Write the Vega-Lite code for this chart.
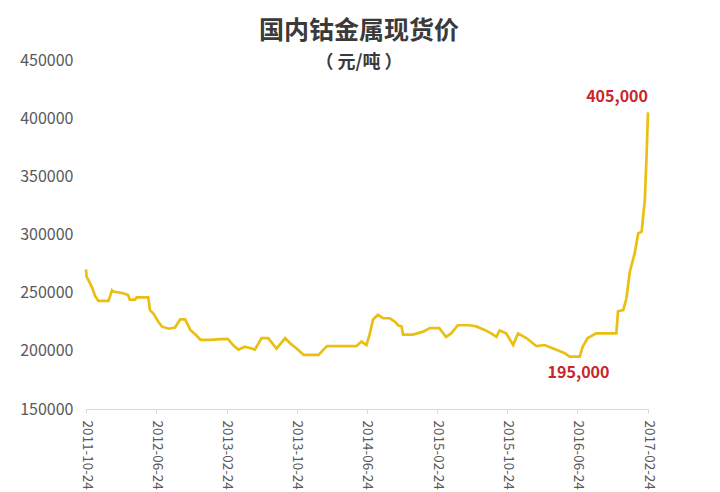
{
  "$schema": "https://vega.github.io/schema/vega-lite/v6.json",
  "width": 562,
  "height": 349,
  "autosize": "none",
  "padding": {"left": 86, "top": 60, "right": 72, "bottom": 83},
  "background": "white",
  "title": {
    "text": "国内钴金属现货价",
    "subtitle": "（ 元/吨 ）",
    "font": "Noto Sans CJK SC",
    "fontSize": 25,
    "fontWeight": "bold",
    "color": "#3a3a3a",
    "subtitleFont": "Noto Sans CJK SC",
    "subtitleFontSize": 18,
    "subtitleFontWeight": "bold",
    "subtitleColor": "#3a3a3a",
    "subtitlePadding": 10,
    "anchor": "middle",
    "frame": "group",
    "offset": -20,
    "dx": -8
  },
  "config": {
    "view": {"stroke": null},
    "axis": {"labelFont": "Noto Sans CJK SC", "labelColor": "#595959", "title": null, "grid": false}
  },
  "datasets": {
    "price": [
      {"date": "2011-10-24", "price": 270000},
      {"date": "2011-10-26", "price": 264000},
      {"date": "2011-11-13", "price": 255000},
      {"date": "2011-11-25", "price": 247000},
      {"date": "2011-12-06", "price": 243000},
      {"date": "2012-01-10", "price": 243000},
      {"date": "2012-01-22", "price": 252000},
      {"date": "2012-01-27", "price": 251000},
      {"date": "2012-03-01", "price": 249500},
      {"date": "2012-03-18", "price": 248000},
      {"date": "2012-03-24", "price": 244000},
      {"date": "2012-04-11", "price": 244000},
      {"date": "2012-04-17", "price": 246000},
      {"date": "2012-05-27", "price": 246000},
      {"date": "2012-06-02", "price": 235000},
      {"date": "2012-06-14", "price": 232000},
      {"date": "2012-07-01", "price": 225000},
      {"date": "2012-07-13", "price": 221000},
      {"date": "2012-08-05", "price": 219000},
      {"date": "2012-08-28", "price": 220000},
      {"date": "2012-09-15", "price": 227000},
      {"date": "2012-10-02", "price": 227000},
      {"date": "2012-10-20", "price": 218000},
      {"date": "2012-11-07", "price": 214000},
      {"date": "2012-11-24", "price": 209500},
      {"date": "2012-12-28", "price": 209500},
      {"date": "2013-02-01", "price": 210000},
      {"date": "2013-02-28", "price": 210000},
      {"date": "2013-03-17", "price": 205000},
      {"date": "2013-04-05", "price": 201000},
      {"date": "2013-04-27", "price": 203500},
      {"date": "2013-05-21", "price": 202000},
      {"date": "2013-06-01", "price": 201000},
      {"date": "2013-06-24", "price": 211000},
      {"date": "2013-07-17", "price": 211000},
      {"date": "2013-08-15", "price": 202000},
      {"date": "2013-09-14", "price": 211000},
      {"date": "2013-10-01", "price": 206500},
      {"date": "2013-10-24", "price": 202000},
      {"date": "2013-11-17", "price": 196500},
      {"date": "2014-01-08", "price": 196500},
      {"date": "2014-02-06", "price": 204000},
      {"date": "2014-05-19", "price": 204000},
      {"date": "2014-06-06", "price": 208000},
      {"date": "2014-06-23", "price": 205000},
      {"date": "2014-07-04", "price": 214000},
      {"date": "2014-07-16", "price": 227000},
      {"date": "2014-08-02", "price": 231000},
      {"date": "2014-08-20", "price": 228000},
      {"date": "2014-09-12", "price": 228000},
      {"date": "2014-09-30", "price": 225000},
      {"date": "2014-10-11", "price": 222000},
      {"date": "2014-10-23", "price": 221000},
      {"date": "2014-10-28", "price": 214000},
      {"date": "2014-12-02", "price": 214000},
      {"date": "2015-01-06", "price": 216500},
      {"date": "2015-01-29", "price": 219500},
      {"date": "2015-03-03", "price": 219500},
      {"date": "2015-03-26", "price": 212000},
      {"date": "2015-04-13", "price": 215000},
      {"date": "2015-05-06", "price": 222000},
      {"date": "2015-06-16", "price": 222000},
      {"date": "2015-07-09", "price": 221000},
      {"date": "2015-08-07", "price": 218000},
      {"date": "2015-08-30", "price": 215000},
      {"date": "2015-09-17", "price": 212000},
      {"date": "2015-09-28", "price": 217500},
      {"date": "2015-10-21", "price": 215000},
      {"date": "2015-11-14", "price": 205000},
      {"date": "2015-12-01", "price": 215000},
      {"date": "2015-12-30", "price": 211000},
      {"date": "2016-02-03", "price": 204000},
      {"date": "2016-03-02", "price": 205000},
      {"date": "2016-04-12", "price": 201000},
      {"date": "2016-05-11", "price": 198000},
      {"date": "2016-05-28", "price": 195000},
      {"date": "2016-07-02", "price": 195000},
      {"date": "2016-07-13", "price": 204000},
      {"date": "2016-07-30", "price": 211000},
      {"date": "2016-08-28", "price": 215000},
      {"date": "2016-11-06", "price": 215000},
      {"date": "2016-11-12", "price": 234000},
      {"date": "2016-11-30", "price": 235000},
      {"date": "2016-12-11", "price": 245000},
      {"date": "2016-12-23", "price": 268000},
      {"date": "2017-01-09", "price": 284000},
      {"date": "2017-01-21", "price": 301000},
      {"date": "2017-02-02", "price": 302500},
      {"date": "2017-02-13", "price": 330000},
      {"date": "2017-02-19", "price": 367000},
      {"date": "2017-02-24", "price": 405000}
    ],
    "high": [{"date": "2017-02-24", "price": 405000, "label": "405,000"}],
    "low": [{"date": "2016-06-28", "price": 195000, "label": "195,000"}]
  },
  "encoding": {
    "x": {
      "field": "date",
      "type": "temporal",
      "scale": {
        "type": "utc",
        "domain": [
          {"year": 2011, "month": 10, "date": 24, "utc": true},
          {"year": 2017, "month": 2, "date": 24, "utc": true}
        ]
      },
      "axis": {
        "values": [
          {"year": 2011, "month": 10, "date": 24, "utc": true},
          {"year": 2012, "month": 6, "date": 24, "utc": true},
          {"year": 2013, "month": 2, "date": 24, "utc": true},
          {"year": 2013, "month": 10, "date": 24, "utc": true},
          {"year": 2014, "month": 6, "date": 24, "utc": true},
          {"year": 2015, "month": 2, "date": 24, "utc": true},
          {"year": 2015, "month": 10, "date": 24, "utc": true},
          {"year": 2016, "month": 6, "date": 24, "utc": true},
          {"year": 2017, "month": 2, "date": 24, "utc": true}
        ],
        "format": "%Y-%m-%d",
        "labelAngle": 90,
        "labelFontSize": 13.5,
        "labelPadding": 7,
        "labelOverlap": false,
        "labelFlush": false,
        "labelBound": false,
        "domainColor": "#d9d9d9",
        "tickColor": "#d9d9d9",
        "tickSize": 4
      }
    },
    "y": {
      "field": "price",
      "type": "quantitative",
      "scale": {"domain": [150000, 450000], "nice": false, "zero": false},
      "axis": {
        "values": [150000, 200000, 250000, 300000, 350000, 400000, 450000],
        "format": "d",
        "domain": false,
        "ticks": false,
        "labelPadding": 13,
        "labelFontSize": 16
      }
    }
  },
  "layer": [
    {
      "data": {"name": "price"},
      "mark": {"type": "line", "color": "#EBBF12", "strokeWidth": 2.7}
    },
    {
      "data": {"name": "high"},
      "mark": {"type": "text", "font": "Noto Sans CJK SC", "fontSize": 16, "fontWeight": "bold", "color": "#C9252C", "align": "right", "baseline": "middle", "dx": 0, "dy": -15},
      "encoding": {"text": {"field": "label"}}
    },
    {
      "data": {"name": "low"},
      "mark": {"type": "text", "font": "Noto Sans CJK SC", "fontSize": 16, "fontWeight": "bold", "color": "#C9252C", "align": "center", "baseline": "middle", "dy": 16},
      "encoding": {"text": {"field": "label"}}
    }
  ]
}
